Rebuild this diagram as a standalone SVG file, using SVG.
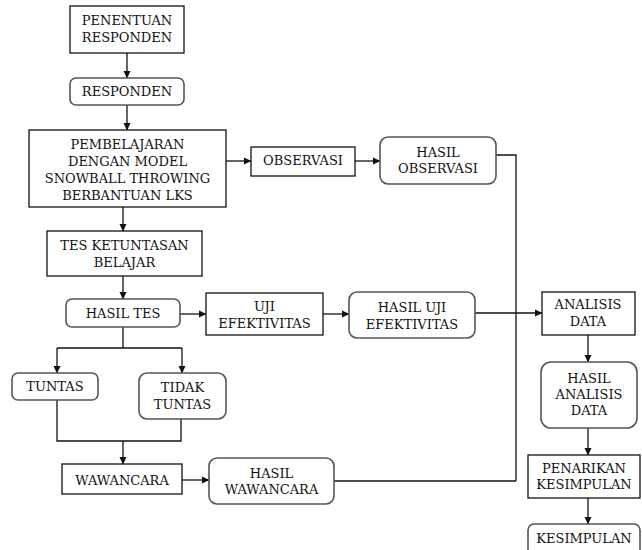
<svg xmlns="http://www.w3.org/2000/svg" width="642" height="550" viewBox="0 0 642 550">
<style>
.b{fill:#fff;stroke:#111;stroke-width:1.3}
.r{fill:#fff;stroke:#555;stroke-width:1.6}
.t{font-family:"DejaVu Serif",serif;font-size:13px;fill:#111;text-anchor:middle}
.c{fill:none;stroke:#111;stroke-width:1.3}
</style>
<defs>
<marker id="a" markerWidth="8" markerHeight="8" refX="7" refY="4" orient="auto" markerUnits="userSpaceOnUse">
<path d="M0,0.5 L7.5,4 L0,7.5 Z" fill="#111"/>
</marker>
</defs>
<rect width="642" height="550" fill="#fff"/>
<g id="connectors">
<path class="c" d="M127,53 V78" marker-end="url(#a)"/>
<path class="c" d="M127,105 V130" marker-end="url(#a)"/>
<path class="c" d="M226,161 H251" marker-end="url(#a)"/>
<path class="c" d="M355,161 H380" marker-end="url(#a)"/>
<path class="c" d="M496,155 H516 V481"/>
<path class="c" d="M123,207 V231" marker-end="url(#a)"/>
<path class="c" d="M123,276 V299" marker-end="url(#a)"/>
<path class="c" d="M180,314 H206" marker-end="url(#a)"/>
<path class="c" d="M323,314 H349" marker-end="url(#a)"/>
<path class="c" d="M475,313 H542" marker-end="url(#a)"/>
<path class="c" d="M123,327 V348 M57,348 H182"/>
<path class="c" d="M57,348 V373" marker-end="url(#a)"/>
<path class="c" d="M182,348 V373" marker-end="url(#a)"/>
<path class="c" d="M57,400 V441 H181 V419"/>
<path class="c" d="M123,441 V464" marker-end="url(#a)"/>
<path class="c" d="M182,480 H209" marker-end="url(#a)"/>
<path class="c" d="M334,481 H516"/>
<path class="c" d="M588,335 V362" marker-end="url(#a)"/>
<path class="c" d="M588,428 V455" marker-end="url(#a)"/>
<path class="c" d="M588,498 V524" marker-end="url(#a)"/>
</g>
<g id="penentuan"><rect class="b" x="70" y="6" width="114" height="47"/><text class="t" x="127" y="25">PENENTUAN</text><text class="t" x="127" y="42">RESPONDEN</text></g>
<g id="responden"><rect class="r" x="70" y="78" width="114" height="27" rx="6"/><text class="t" x="127" y="96">RESPONDEN</text></g>
<g id="pembelajaran"><rect class="b" x="29" y="130" width="197" height="77"/><text class="t" x="127.5" y="149">PEMBELAJARAN</text><text class="t" x="127.5" y="166">DENGAN MODEL</text><text class="t" x="127.5" y="183">SNOWBALL THROWING</text><text class="t" x="127.5" y="200">BERBANTUAN LKS</text></g>
<g id="observasi"><rect class="b" x="251" y="147" width="104" height="29"/><text class="t" x="303" y="165">OBSERVASI</text></g>
<g id="hasil-observasi"><rect class="r" x="380" y="137" width="116" height="47" rx="8"/><text class="t" x="438" y="157">HASIL</text><text class="t" x="438" y="173">OBSERVASI</text></g>
<g id="tes"><rect class="b" x="47" y="231" width="155" height="45"/><text class="t" x="124.5" y="250">TES KETUNTASAN</text><text class="t" x="124.5" y="267">BELAJAR</text></g>
<g id="hasil-tes"><rect class="r" x="66" y="299" width="114" height="28" rx="6"/><text class="t" x="123" y="318">HASIL TES</text></g>
<g id="uji"><rect class="b" x="206" y="293" width="117" height="42"/><text class="t" x="264.5" y="311">UJI</text><text class="t" x="264.5" y="328">EFEKTIVITAS</text></g>
<g id="hasil-uji"><rect class="r" x="349" y="292" width="126" height="46" rx="8"/><text class="t" x="412" y="312">HASIL UJI</text><text class="t" x="412" y="329">EFEKTIVITAS</text></g>
<g id="analisis"><rect class="b" x="542" y="292" width="93" height="43"/><text class="t" x="588" y="309">ANALISIS</text><text class="t" x="588" y="326">DATA</text></g>
<g id="tuntas"><rect class="r" x="12" y="373" width="86" height="27" rx="6"/><text class="t" x="55" y="391">TUNTAS</text></g>
<g id="tidak-tuntas"><rect class="r" x="139" y="373" width="87" height="46" rx="8"/><text class="t" x="182.5" y="392">TIDAK</text><text class="t" x="182.5" y="409">TUNTAS</text></g>
<g id="wawancara"><rect class="b" x="62" y="464" width="120" height="30"/><text class="t" x="122" y="485">WAWANCARA</text></g>
<g id="hasil-wawancara"><rect class="r" x="209" y="458" width="125" height="46" rx="8"/><text class="t" x="271.5" y="478">HASIL</text><text class="t" x="271.5" y="494">WAWANCARA</text></g>
<g id="hasil-analisis"><rect class="r" x="541" y="362" width="96" height="66" rx="10"/><text class="t" x="589" y="383">HASIL</text><text class="t" x="589" y="399">ANALISIS</text><text class="t" x="589" y="415">DATA</text></g>
<g id="penarikan"><rect class="b" x="528" y="455" width="112" height="43"/><text class="t" x="584" y="473">PENARIKAN</text><text class="t" x="584" y="489">KESIMPULAN</text></g>
<g id="kesimpulan"><rect class="r" x="528" y="524" width="112" height="34" rx="6"/><text class="t" x="584" y="543">KESIMPULAN</text></g>
</svg>
